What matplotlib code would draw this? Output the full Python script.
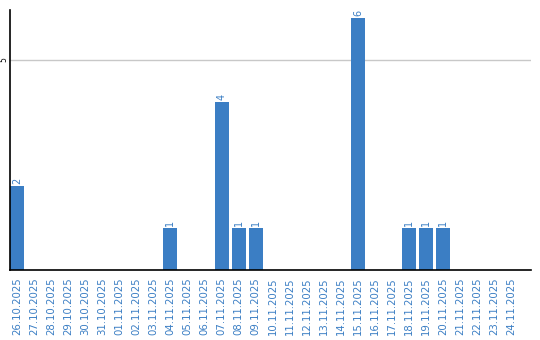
import matplotlib.pyplot as plt
import pandas as pd

dates = [d.strftime('%d.%m.%Y') for d in pd.date_range('2025-10-26', '2025-11-24')]
counts = [2, 0, 0, 0, 0, 0, 0, 0, 0, 1,
          0, 0, 4, 1, 1, 0, 0, 0, 0, 0,
          6, 0, 0, 1, 1, 1, 0, 0, 0, 0]

blue = '#3b7ec4'

fig = plt.figure(figsize=(5.4, 3.4), dpi=100)
ax = fig.add_axes([10 / 540, 70 / 340, 521 / 540, 260 / 340])

x = list(range(len(dates)))
bars = ax.bar(x, counts, width=0.82, align='edge', color=blue)
for bar, c in zip(bars, counts):
    if c > 0:
        ax.text(bar.get_x() + bar.get_width() / 2, c + 0.05, str(c),
                rotation=90, ha='center', va='bottom', fontsize=7, color=blue)

ax.set_xlim(0, 30.56)
ax.set_ylim(0, 6.19)
ax.set_xticks([i + 0.41 for i in x])
ax.set_xticklabels(dates, rotation=90, fontsize=7.3, color=blue)
ax.set_yticks([5])
ax.set_yticklabels(['5'], rotation=90, fontsize=5.5, va='center')
ax.tick_params(axis='x', length=0, pad=5)
ax.tick_params(axis='y', length=0, pad=1.5)
ax.axhline(5, color='#c8c8c8', lw=1, zorder=0)
for s in ['top', 'right']:
    ax.spines[s].set_visible(False)
ax.spines['left'].set_linewidth(1.2)
ax.spines['bottom'].set_linewidth(1.2)

fig.savefig('out.png', dpi=100)
